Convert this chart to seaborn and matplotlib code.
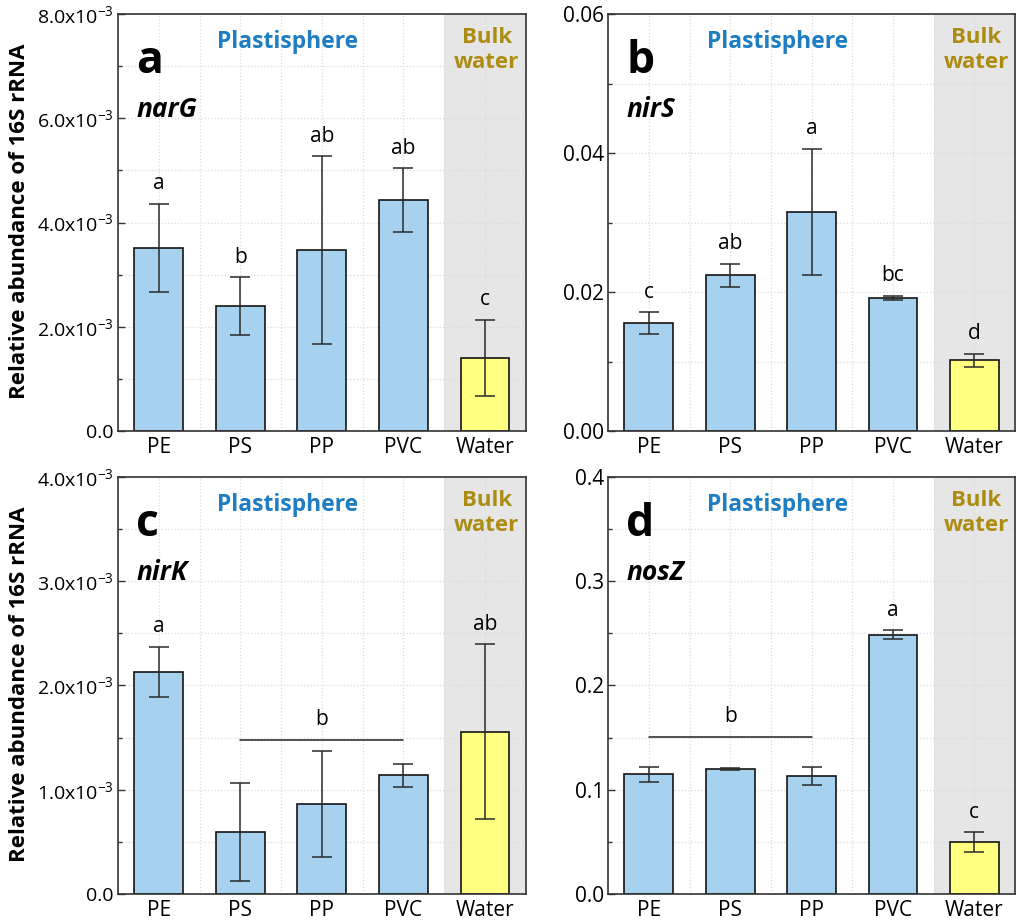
import numpy as np
import pandas as pd
import seaborn as sns
import matplotlib
matplotlib.use('Agg')
import matplotlib.pyplot as plt
from matplotlib.ticker import MultipleLocator, FuncFormatter

# categories and values
categories = ['PE', 'PS', 'PP', 'PVC', 'Water']

narG_mean = [3.51e-3, 2.40e-3, 3.47e-3, 4.43e-3, 1.40e-3]
narG_err = [0.85e-3, 0.55e-3, 1.80e-3, 0.61e-3, 0.73e-3]
narG_letters = ['a', 'b', 'ab', 'ab', 'c']

nirS_mean = [0.0155, 0.0224, 0.0315, 0.0192, 0.0102]
nirS_err = [0.0016, 0.0017, 0.0091, 0.0003, 0.00095]
nirS_letters = ['c', 'ab', 'a', 'bc', 'd']

nirK_mean = [2.13e-3, 0.595e-3, 0.86e-3, 1.14e-3, 1.556e-3]
nirK_err = [0.24e-3, 0.47e-3, 0.51e-3, 0.11e-3, 0.84e-3]
nirK_letters = ['a', '', '', '', 'ab']
nirK_group = ['b', 1, 3, 1.48e-3]   # letter, from, to, line level

nosZ_mean = [0.1148, 0.1195, 0.113, 0.2486, 0.0499]
nosZ_err = [0.007, 0.001, 0.0085, 0.0045, 0.0094]
nosZ_letters = ['', '', '', 'a', 'c']
nosZ_group = ['b', 0, 2, 0.1505]

sns.set_style('ticks')
plt.rcParams['font.family'] = ['Open Sans', 'DejaVu Sans']
plt.rcParams['mathtext.fontset'] = 'custom'
plt.rcParams['mathtext.rm'] = 'Open Sans'
plt.rcParams['mathtext.it'] = 'Open Sans:italic'
plt.rcParams['mathtext.bf'] = 'Open Sans:bold'
for k in ['text.color', 'axes.labelcolor', 'xtick.labelcolor', 'ytick.labelcolor']:
    plt.rcParams[k] = 'black'

blue = '#A6D2F0'
yellow = '#FFFF80'
text_blue = '#1F7DC1'
text_gold = '#AD8C12'


def sci_fmt(v, pos):
    if v == 0:
        return '0.0'
    return '%.1fx10$^{-3}$' % (v * 1e3)


def panel(ax, mean, err, letters, ymax, major, label, gene, sci, group=None, ylab=False):
    df = pd.DataFrame({'cat': categories, 'val': mean})
    ax.axvspan(3.5, 4.5, color='#E6E6E6', zorder=0.1, lw=0)
    sns.barplot(data=df, x='cat', y='val', hue='cat', palette=[blue] * 4 + [yellow],
                saturation=1, legend=False, width=0.6, edgecolor='#151515', linewidth=1.2,
                errorbar=None, ax=ax, zorder=2)
    ax.errorbar(range(len(categories)), mean, yerr=err, fmt='none', ecolor='#2a2a2a',
                elinewidth=1.1, capsize=7, capthick=1.1, zorder=3)
    off = 0.035 * ymax
    for i, t in enumerate(letters):
        if t:
            ax.text(i, mean[i] + err[i] + off, t, ha='center', va='baseline', fontsize=15)
    if group is not None:
        g, a, b, lvl = group
        ax.plot([a, b], [lvl, lvl], color='#222222', lw=1.1, zorder=3)
        ax.text((a + b) / 2, lvl + off, g, ha='center', va='baseline', fontsize=15)

    ax.set_xlim(-0.5, 4.5)
    ax.set_ylim(0, ymax)
    ax.yaxis.set_major_locator(MultipleLocator(major))
    ax.yaxis.set_minor_locator(MultipleLocator(major / 2))
    ax.set_xticks(np.arange(0.5, 4.5, 1.0), minor=True)
    if sci:
        ax.yaxis.set_major_formatter(FuncFormatter(sci_fmt))
    ax.set_axisbelow(True)
    ax.grid(which='both', color='#DCDCDC', ls=':', lw=0.9)
    ax.tick_params(axis='y', which='major', direction='in', length=5, width=1,
                   labelsize=14 if sci else 15, color='#333333', pad=3)
    ax.tick_params(axis='y', which='minor', direction='in', length=3, width=1, color='#333333')
    ax.tick_params(axis='x', which='both', length=0, labelsize=15, pad=4)
    for s in ax.spines.values():
        s.set_color('#333333')
        s.set_linewidth(1.2)
    ax.set_xlabel('')
    if ylab:
        ax.set_ylabel('Relative abundance of 16S rRNA', fontsize=16, fontweight='bold')
        ax.yaxis.set_label_coords(-0.215, 0.502)
    else:
        ax.set_ylabel('')

    ax.text(0.045, 0.885, label, transform=ax.transAxes, fontsize=32, fontweight='bold',
            va='center', ha='left')
    ax.text(0.045, 0.772, gene, transform=ax.transAxes, fontsize=19, fontweight='bold',
            style='italic', va='center', ha='left')
    ax.text(1.58, 0.933 * ymax, 'Plastisphere', color=text_blue, fontsize=16.5,
            fontweight='bold', ha='center', va='center')
    ax.text(4.02, 0.913 * ymax, 'Bulk\nwater', color=text_gold, fontsize=16,
            fontweight='bold', ha='center', va='center', linespacing=1.25)


fig = plt.figure(figsize=(10.17, 9.22), dpi=100)
ax_a = fig.add_axes([0.116, 0.5325, 0.401, 0.4523])
ax_b = fig.add_axes([0.598, 0.5325, 0.400, 0.4523])
ax_c = fig.add_axes([0.116, 0.0304, 0.401, 0.4523])
ax_d = fig.add_axes([0.598, 0.0304, 0.400, 0.4523])

panel(ax_a, narG_mean, narG_err, narG_letters, 8e-3, 2e-3, 'a', 'narG', True, ylab=True)
panel(ax_b, nirS_mean, nirS_err, nirS_letters, 0.06, 0.02, 'b', 'nirS', False)
ax_b.yaxis.set_major_formatter(FuncFormatter(lambda v, p: '%.2f' % v))
panel(ax_c, nirK_mean, nirK_err, nirK_letters, 4e-3, 1e-3, 'c', 'nirK', True, group=nirK_group, ylab=True)
panel(ax_d, nosZ_mean, nosZ_err, nosZ_letters, 0.4, 0.1, 'd', 'nosZ', False, group=nosZ_group)
ax_d.yaxis.set_major_formatter(FuncFormatter(lambda v, p: '%.1f' % v))

fig.savefig('out.png', dpi=100)
